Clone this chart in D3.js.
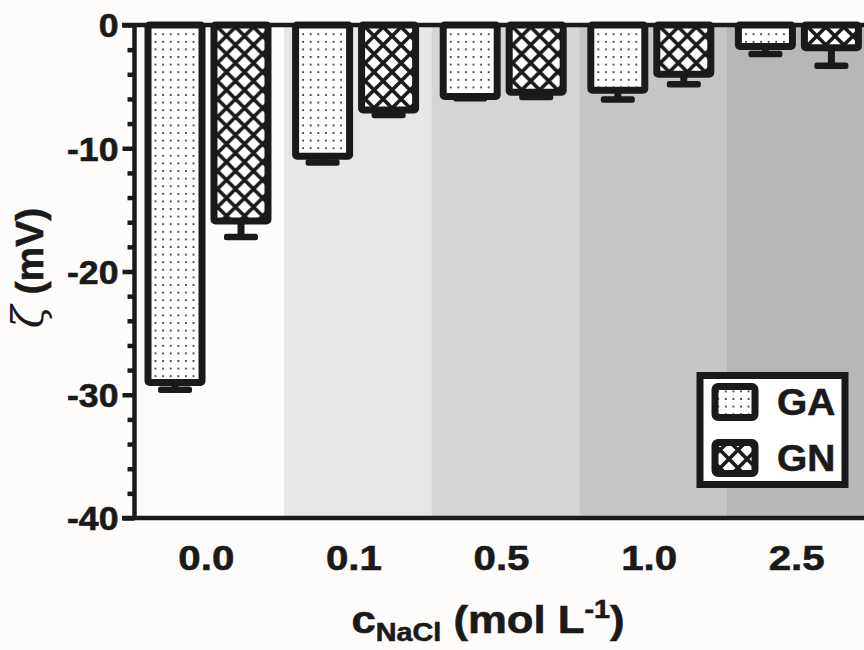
<!DOCTYPE html>
<html>
<head>
<meta charset="utf-8">
<script src="https://cdn.jsdelivr.net/npm/d3@7"></script>
<style>
  html, body { margin: 0; padding: 0; background: #fdfcfb; }
  svg { display: block; }
  text { font-family: "Liberation Sans", Arial, sans-serif; font-weight: bold; fill: #1a1a1a;
         stroke: #1a1a1a; stroke-width: 0.6px; }
</style>
</head>
<body>
<svg id="chart" width="864" height="650"></svg>
<script>
// NaCl concentrations (mol/L) and zeta potentials (mV) for the two samples
const categories = ["0.0", "0.1", "0.5", "1.0", "2.5"];
const seriesNames = ["GA", "GN"];
const gaMean = [-29.0, -10.65, -5.8, -5.3, -1.75];
const gaErr  = [0.6, 0.5, 0.15, 0.75, 0.6];
const gnMean = [-15.9, -6.9, -5.45, -4.0, -1.85];
const gnErr  = [1.3, 0.4, 0.4, 0.8, 1.45];
const bandColors = ["#fdfcfb", "#e8e7e8", "#d5d5d5", "#c6c6c6", "#b7b7b7"];
const yMajorTicks = [0, -10, -20, -30, -40];
const yMinorTicks = [-2, -4, -6, -8, -12, -14, -16, -18, -22, -24, -26, -28, -32, -34, -36, -38];

const INK = "#1a1a1a";
const svg = d3.select("#chart");

const rows = categories.map((c, i) => ({
  cat: c, band: bandColors[i],
  bars: [
    { s: "GA", v: gaMean[i], e: gaErr[i] },
    { s: "GN", v: gnMean[i], e: gnErr[i] }
  ]
}));

// scales
const x0 = d3.scaleBand().domain(categories).range([136.5, 874.5]);
const x1 = d3.scaleBand().domain(seriesNames).range([11.5, 131.5]).paddingInner(0.1818);
const y = d3.scaleLinear().domain([-40, 0]).range([518, 25]);

// fill patterns
const defs = svg.append("defs");
const dots = defs.append("pattern").attr("id", "dots")
  .attr("patternUnits", "userSpaceOnUse").attr("width", 7.6).attr("height", 7.6);
dots.append("rect").attr("width", 7.6).attr("height", 7.6).attr("fill", "#ffffff");
dots.append("circle").attr("cx", 3.8).attr("cy", 3.8).attr("r", 1).attr("fill", "#222");

const P = 18;
const cross = defs.append("pattern").attr("id", "cross")
  .attr("patternUnits", "userSpaceOnUse").attr("width", P).attr("height", P);
cross.append("rect").attr("width", P).attr("height", P).attr("fill", "#ffffff");
let hatch = "";
[-P, 0, P].forEach(k => { hatch += `M${k - 2},-2L${k + P + 2},${P + 2}`; });
[0, P, 2 * P].forEach(c => { hatch += `M${c + 2},-2L-2,${c + 2}`; });
cross.append("path").attr("d", hatch).attr("stroke", INK).attr("stroke-width", 3.6).attr("fill", "none");
const fillFor = { GA: "url(#dots)", GN: "url(#cross)" };

// shaded concentration bands
svg.append("g").selectAll("rect").data(rows).join("rect")
  .attr("x", d => x0(d.cat)).attr("y", y(0))
  .attr("width", x0.bandwidth() + 0.5).attr("height", y(-40) - y(0))
  .attr("fill", d => d.band);

// bars with downward error bars
const groups = svg.append("g").selectAll("g").data(rows).join("g")
  .attr("transform", d => `translate(${x0(d.cat)},0)`);

groups.selectAll("rect.bar").data(d => d.bars).join("rect")
  .attr("class", "bar")
  .attr("x", d => x1(d.s)).attr("y", y(0))
  .attr("width", x1.bandwidth()).attr("height", d => y(d.v) - y(0))
  .attr("fill", d => fillFor[d.s])
  .attr("stroke", INK).attr("stroke-width", 7)
  .attr("stroke-linejoin", "round").attr("rx", 1.5);

groups.selectAll("line.stem").data(d => d.bars).join("line")
  .attr("class", "stem")
  .attr("x1", d => x1(d.s) + x1.bandwidth() / 2).attr("x2", d => x1(d.s) + x1.bandwidth() / 2)
  .attr("y1", d => y(d.v)).attr("y2", d => y(d.v - d.e))
  .attr("stroke", INK).attr("stroke-width", 7);

groups.selectAll("rect.cap").data(d => d.bars).join("rect")
  .attr("class", "cap")
  .attr("x", d => x1(d.s) + x1.bandwidth() / 2 - 17).attr("y", d => y(d.v - d.e) - 3.25)
  .attr("width", 34).attr("height", 6.5).attr("rx", 2.5)
  .attr("fill", INK);

// axes
const axisG = svg.append("g").attr("transform", "translate(134.5,0)");
const majorAxis = d3.axisLeft(y).tickValues(yMajorTicks).tickSize(12).tickSizeOuter(0)
  .tickFormat(d => String(d));
axisG.call(majorAxis);
axisG.select(".domain").remove();
axisG.selectAll(".tick line").attr("stroke", INK).attr("stroke-width", 4.5);
axisG.selectAll(".tick text")
  .attr("x", 0).attr("dy", "0.36em")
  .attr("transform", "translate(-16,0) scale(1.08,1)")
  .style("font-size", "33px").style("font-family", "'Liberation Sans', Arial, sans-serif")
  .style("font-weight", "bold").attr("fill", INK);

const minorG = svg.append("g").attr("transform", "translate(134.5,0)");
minorG.call(d3.axisLeft(y).tickValues(yMinorTicks).tickSize(7).tickSizeOuter(0).tickFormat(""));
minorG.select(".domain").remove();
minorG.selectAll(".tick line").attr("stroke", INK).attr("stroke-width", 4.5);

// y axis line, zero line and bottom axis line
svg.append("line").attr("x1", 134.5).attr("x2", 134.5).attr("y1", y(0)).attr("y2", y(-40))
  .attr("stroke", INK).attr("stroke-width", 4.5);
svg.append("line").attr("x1", 122).attr("x2", 880).attr("y1", y(0)).attr("y2", y(0))
  .attr("stroke", INK).attr("stroke-width", 4.5);
svg.append("line").attr("x1", 122).attr("x2", 880).attr("y1", y(-40)).attr("y2", y(-40))
  .attr("stroke", INK).attr("stroke-width", 4.5);

// category labels
svg.append("g").selectAll("text").data(categories).join("text")
  .attr("transform", d => `translate(${x0(d) + x0.bandwidth() / 2 - 4},570) scale(1.15,1)`)
  .attr("text-anchor", "middle")
  .style("font-size", "35px")
  .text(d => d);

// axis titles
const yTitle = svg.append("text")
  .attr("transform", "translate(43,268) rotate(-90)")
  .attr("text-anchor", "middle")
  .style("font-size", "39px");
yTitle.append("tspan").style("font-weight", "normal").style("font-style", "italic")
  .style("stroke-width", "0px")
  .style("font-family", "'DejaVu Serif', serif").style("font-size", "42px").text("ζ");
yTitle.append("tspan").text(" (mV)");

const xTitle = svg.append("text")
  .attr("transform", "translate(488,633) scale(1.15,1)")
  .attr("text-anchor", "middle")
  .style("font-size", "38px");
xTitle.append("tspan").text("c");
xTitle.append("tspan").attr("dy", 8).style("font-size", "25px").text("NaCl");
xTitle.append("tspan").attr("dy", -8).text(" (mol L");
xTitle.append("tspan").attr("dy", -15).style("font-size", "25px").text("-1");
xTitle.append("tspan").attr("dy", 15).text(")");

// legend
const legend = svg.append("g");
legend.append("rect").attr("x", 700).attr("y", 375.5).attr("width", 145).attr("height", 109)
  .attr("fill", "#ffffff").attr("stroke", INK).attr("stroke-width", 7);
const legendRows = [
  { s: "GA", cy: 402 },
  { s: "GN", cy: 458 }
];
legend.selectAll("rect.sw").data(legendRows).join("rect")
  .attr("class", "sw")
  .attr("x", 715).attr("y", d => d.cy - 15.5).attr("width", 40).attr("height", 31)
  .attr("rx", 3).attr("fill", d => fillFor[d.s])
  .attr("stroke", INK).attr("stroke-width", 7);
legend.selectAll("text").data(legendRows).join("text")
  .attr("transform", d => `translate(777,${d.cy}) scale(1.05,1)`)
  .attr("dy", "0.36em")
  .style("font-size", "37px")
  .text(d => d.s);
</script>
</body>
</html>
